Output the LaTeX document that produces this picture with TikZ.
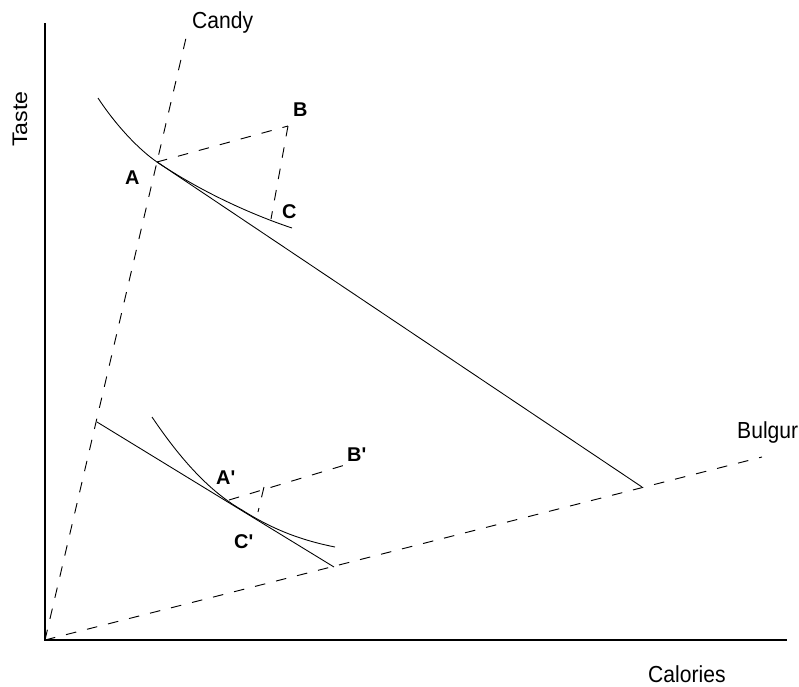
\documentclass[tikz,border=0pt]{standalone}
\usepackage{fontspec}
\setmainfont{Liberation Sans}
\begin{document}
\begin{tikzpicture}[x=0.03cm,y=-0.03cm,
  axis/.style={line width=1.6pt},
  ray/.style={line width=0.8pt, dash pattern=on 9pt off 9.5pt},
  thinline/.style={line width=0.75pt},
  lbl/.style={font=\fontsize{18}{20}\selectfont, inner sep=0pt, anchor=base west, yscale=1.1},
  ptlbl/.style={font=\bfseries\fontsize{17}{19}\selectfont, inner sep=0pt, anchor=base west}]
\useasboundingbox (0,0) rectangle (799,686);
% key points
\coordinate (O) at (45,640);
\coordinate (ytop) at (45,23);
\coordinate (xend) at (787,640);
\coordinate (candyend) at (186,38);
\coordinate (bulgurend) at (762,457);
\coordinate (A) at (157,162);
\coordinate (B) at (288,126);
\coordinate (C) at (271,219);
\coordinate (Bud1end) at (642,487);
\coordinate (L2s) at (97,422);
\coordinate (L2e) at (334,567);
\coordinate (Ap) at (229,500);
\coordinate (Bp) at (345,465);
\coordinate (Cq) at (264,487);
\coordinate (Cp) at (258,512);
\coordinate (ic1s) at (98,98);
\coordinate (ic1e) at (292,228);
\coordinate (ic2s) at (152,417);
\coordinate (ic2m) at (242,510);
\coordinate (ic2e) at (335,547);
% axes
\draw[axis] (ytop) -- (O) -- (xend);
% rays
\draw[ray] (O) -- (candyend);
\draw[ray] (O) -- (bulgurend);
% upper budget line and indifference curve
\draw[thinline] (A) -- (Bud1end);
\draw[thinline] (ic1s) .. controls (115,124) and (138,149) .. (A)
  .. controls (200,191) and (250,214) .. (ic1e);
\draw[ray] (A) -- (B);
\draw[ray] (B) -- (C);
% lower budget line and indifference curve
\draw[thinline] (L2s) -- (L2e);
\draw[thinline] (ic2s) .. controls (185,466) and (214,494) .. (ic2m)
  .. controls (272,529) and (300,540) .. (ic2e);
\draw[ray] (Ap) -- (Bp);
\draw[ray] (Cq) -- (Cp);
% labels
\node[lbl] (candy) at (192,28) {Candy};
\node[lbl] (bulgur) at (737,438) {Bulgur};
\node[lbl] (calories) at (648,682) {Calories};
\node[lbl, rotate=90] (taste) at (27,147) {Taste};
\node[ptlbl] (lA) at (125,184) {A};
\node[ptlbl] (lB) at (293,116) {B};
\node[ptlbl] (lC) at (282,218) {C};
\node[ptlbl] (lAp) at (216,484) {A\textquotesingle};
\node[ptlbl] (lBp) at (347,461) {B\textquotesingle};
\node[ptlbl] (lCp) at (234,548) {C\textquotesingle};
\end{tikzpicture}
\end{document}
